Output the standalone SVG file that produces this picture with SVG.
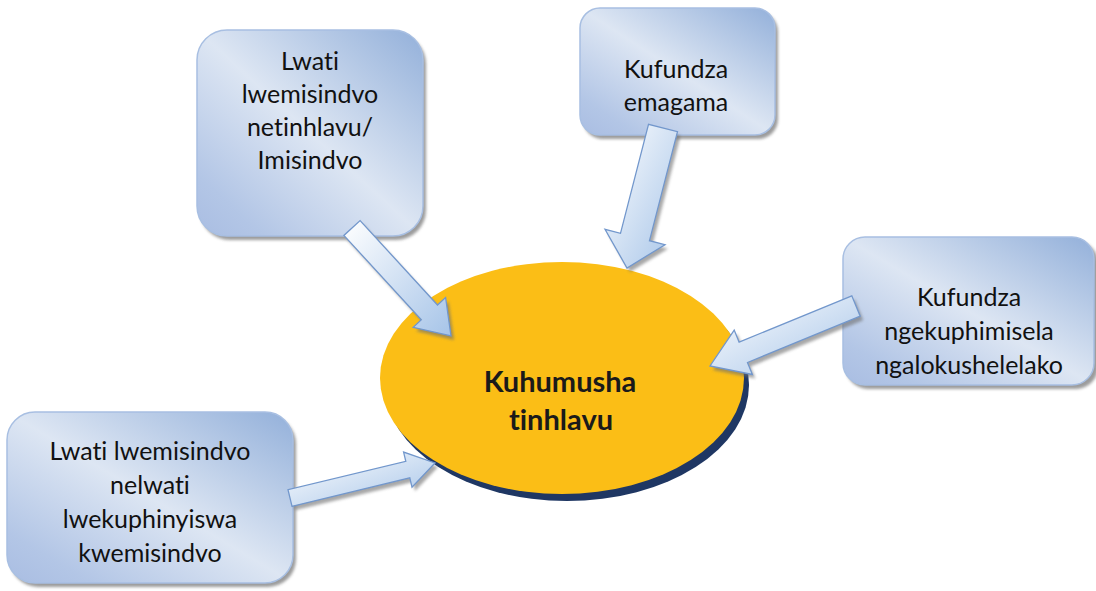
<svg xmlns="http://www.w3.org/2000/svg" width="1096" height="591" viewBox="0 0 1096 591">
<defs>
<linearGradient id="boxg" x1="1" y1="0" x2="0" y2="1">
<stop offset="0" stop-color="#93B0DA"/>
<stop offset="0.5" stop-color="#DDE6F3"/>
<stop offset="0.85" stop-color="#B3C6E6"/>
<stop offset="1" stop-color="#A9BDE2"/>
</linearGradient>
<linearGradient id="arrg" x1="0" y1="0" x2="1" y2="1">
<stop offset="0" stop-color="#FFFFFF"/>
<stop offset="1" stop-color="#A6C4E8"/>
</linearGradient>
<filter id="blur" x="-10%" y="-10%" width="120%" height="120%">
<feGaussianBlur stdDeviation="1.5"/>
</filter>
<style>
.box{fill:url(#boxg);stroke:#A8BFE2;stroke-width:1.5}
.bsh{fill:#7A7A7A;opacity:0.75;filter:url(#blur)}
.arr{fill:url(#arrg);stroke:#7297CC;stroke-width:1.3;stroke-linejoin:miter}
.ash{fill:#6E6E6E;opacity:0.6;filter:url(#blur)}
.t{font-family:Lato,"Liberation Sans",sans-serif;font-size:25px;fill:#111111;text-anchor:middle;font-variant-ligatures:none;font-feature-settings:"liga" 0}
.tb{font-family:Lato,"Liberation Sans",sans-serif;font-size:29px;font-weight:bold;fill:#1A1A1A;text-anchor:middle;font-variant-ligatures:none;font-feature-settings:"liga" 0}
</style>
</defs>
<rect width="1096" height="591" fill="#FFFFFF"/>

<g id="center">
<ellipse cx="567" cy="385" rx="182" ry="116" fill="#1F3763"/>
<ellipse cx="562" cy="378" rx="182" ry="116" fill="#FBBE16"/>
<text class="tb" x="560" y="392">Kuhumusha</text>
<text class="tb" x="561" y="430">tinhlavu</text>
</g>

<g id="box1">
<rect class="bsh" x="200" y="34" width="226" height="206" rx="30"/>
<rect class="box" x="197" y="30" width="226" height="206" rx="30"/>
<text class="t" x="310" y="70">Lwati</text>
<text class="t" x="310" y="103">lwemisindvo</text>
<text class="t" x="310" y="136">netinhlavu/</text>
<text class="t" x="310" y="169">Imisindvo</text>
</g>

<g id="box2">
<rect class="bsh" x="583" y="12" width="195" height="127" rx="20"/>
<rect class="box" x="580" y="8" width="195" height="127" rx="20"/>
<text class="t" x="676" y="78">Kufundza</text>
<text class="t" x="676" y="111">emagama</text>
</g>

<g id="box3">
<rect class="bsh" x="846" y="241" width="252" height="148" rx="22"/>
<rect class="box" x="843" y="237" width="251" height="148" rx="22"/>
<text class="t" x="969" y="306">Kufundza</text>
<text class="t" x="969" y="340">ngekuphimisela</text>
<text class="t" x="969" y="374">ngalokushelelako</text>
</g>

<g id="box4">
<rect class="bsh" x="10" y="416" width="286" height="171" rx="28"/>
<rect class="box" x="7" y="412" width="286" height="171" rx="28"/>
<text class="t" x="150" y="460">Lwati lwemisindvo</text>
<text class="t" x="150" y="494">nelwati</text>
<text class="t" x="150" y="528">lwekuphinyiswa</text>
<text class="t" x="150" y="562">kwemisindvo</text>
</g>

<g id="connectors">
<g transform="translate(3,4)">
<polygon class="ash" points="343.9,235.4 421.3,319.8 413.2,327.3 451,336 445.6,297.5 437.5,305 360.1,220.6"/>
<polygon class="ash" points="648.5,124.3 620.5,233.3 605,229.3 627,268 665,244.7 649.5,240.7 677.5,131.7"/>
<polygon class="ash" points="851.8,295.8 739.1,342.1 734.2,330.1 710,366 752.4,374.5 747.5,362.5 860.2,316.2"/>
<polygon class="ash" points="292,506.3 409.8,477.9 412,487.1 435,463 403.6,452.1 405.8,461.3 288,489.7"/>
</g>
<polygon class="arr" points="343.9,235.4 421.3,319.8 413.2,327.3 451,336 445.6,297.5 437.5,305 360.1,220.6"/>
<polygon class="arr" points="648.5,124.3 620.5,233.3 605,229.3 627,268 665,244.7 649.5,240.7 677.5,131.7"/>
<polygon class="arr" points="851.8,295.8 739.1,342.1 734.2,330.1 710,366 752.4,374.5 747.5,362.5 860.2,316.2"/>
<polygon class="arr" points="292,506.3 409.8,477.9 412,487.1 435,463 403.6,452.1 405.8,461.3 288,489.7"/>
</g>
</svg>
